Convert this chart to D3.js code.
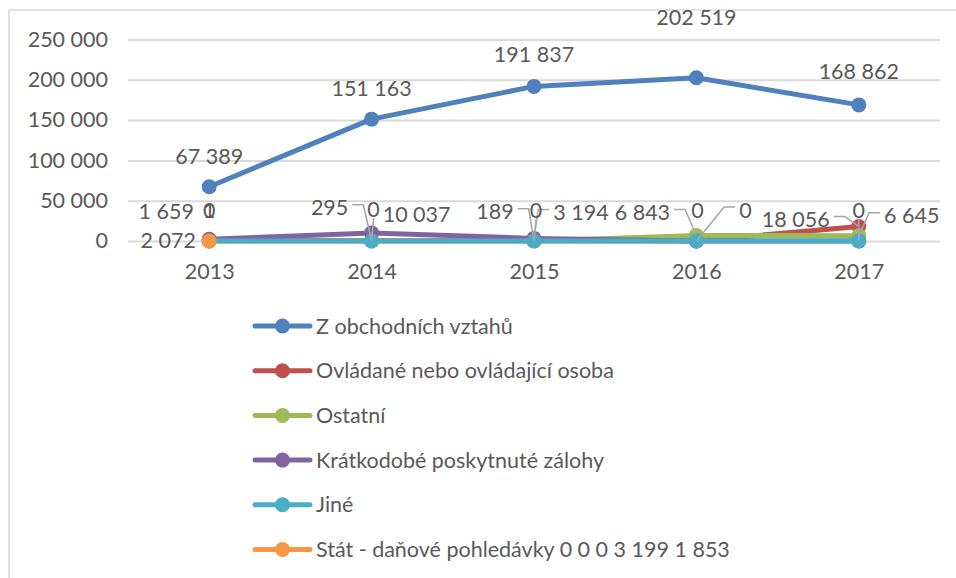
<!DOCTYPE html>
<html>
<head>
<meta charset="utf-8">
<script src="https://cdn.jsdelivr.net/npm/d3@7"></script>
<style>
  body { margin: 0; background: #fff; }
  text { font-family: Lato, "Open Sans", sans-serif; fill: #595959; }
</style>
</head>
<body>
<div class="chart"></div>
<script>
'use strict';

const years = ['2013', '2014', '2015', '2016', '2017'];
const seriesNames = [
    'Z obchodních vztahů',
    'Ovládané nebo ovládající osoba',
    'Ostatní',
    'Krátkodobé poskytnuté zálohy',
    'Jiné',
    'Stát - daňové pohledávky 0 0 0 3 199 1 853'
];
const obchodni = [67389, 151163, 191837, 202519, 168862];
const ovladane = [1659, 295, 189, 0, 18056];
const ostatni = [0, 0, 0, 6843, 6645];
const zalohy = [2072, 10037, 3194, 0, 0];
const jine = [1, 0, 0, 0, 0];
const stat = [0, null, null, null, null];
const yTicks = [0, 50000, 100000, 150000, 200000, 250000];
const colors = ['#4f81bd', '#c0504d', '#9bbb59', '#8064a2', '#4bacc6', '#f79646'];

const allSeries = [obchodni, ovladane, ostatni, zalohy, jine, stat];

// data label placement (offset of label centre from its point), like moved labels in Excel
const labelLayout = [
    {s: 0, i: 0, dx: 0, dy: -30}, {s: 0, i: 1, dx: 0, dy: -31},
    {s: 0, i: 2, dx: 0, dy: -32}, {s: 0, i: 3, dx: 0, dy: -60},
    {s: 0, i: 4, dx: 0, dy: -33},
    {s: 1, i: 0, dx: -43, dy: -28}, {s: 2, i: 0, dx: 0, dy: -31},
    {s: 4, i: 0, dx: 0, dy: -31}, {s: 3, i: 0, dx: -41, dy: 1},
    {s: 1, i: 1, dx: -42, dy: -33, lead: 'left'}, {s: 2, i: 1, dx: 2, dy: -32, lead: 'down'},
    {s: 3, i: 1, dx: 45, dy: -18},
    {s: 1, i: 2, dx: -39, dy: -29, lead: 'left'}, {s: 2, i: 2, dx: 2, dy: -31, lead: 'down'},
    {s: 3, i: 2, dx: 47, dy: -26, lead: 'right'},
    {s: 2, i: 3, dx: -54, dy: -23, lead: 'left'}, {s: 3, i: 3, dx: 1, dy: -31, lead: 'none'},
    {s: 4, i: 3, dx: 49, dy: -31, lead: 'right'},
    {s: 1, i: 4, dx: -63, dy: -7, lead: 'left'}, {s: 3, i: 4, dx: 0, dy: -31, lead: 'down'},
    {s: 2, i: 4, dx: 53, dy: -20, lead: 'right'}
];

const W = 956, H = 578;
const fs = 21.5;
const fmt = v => d3.format(',')(v).replace(/,/g, ' ');

const svg = d3.select('.chart').append('svg')
    .attr('width', W)
    .attr('height', H);

// chart frame
svg.append('path')
    .attr('d', `M9,${H} V10 H${W}`)
    .attr('fill', 'none')
    .attr('stroke', '#d9d9d9')
    .attr('stroke-width', 1.5);

const x = d3.scalePoint().domain(years).range([128, 940]).padding(0.5);
const y = d3.scaleLinear().domain([0, 250000]).range([241, 39.5]);

const yAxis = svg.append('g')
    .attr('transform', 'translate(128,0)')
    .call(d3.axisLeft(y).tickValues(yTicks).tickSize(-812).tickFormat(fmt).tickPadding(20));
yAxis.select('.domain').remove();
yAxis.selectAll('line').attr('stroke', '#d9d9d9').attr('stroke-width', 2);
yAxis.selectAll('text').attr('font-size', fs).style('font-family', 'Lato').attr('fill', '#595959');

const xAxis = svg.append('g')
    .attr('transform', 'translate(0,241)')
    .call(d3.axisBottom(x).tickSize(0).tickPadding(23));
xAxis.select('.domain').remove();
xAxis.selectAll('text').attr('font-size', fs).style('font-family', 'Lato').attr('fill', '#595959');

const line = d3.line()
    .defined(d => d != null)
    .x((d, i) => x(years[i]))
    .y(d => y(d));

allSeries.forEach((vals, s) => {
    const g = svg.append('g');
    g.append('path')
        .attr('d', line(vals))
        .attr('fill', 'none')
        .attr('stroke', colors[s])
        .attr('stroke-width', 5)
        .attr('stroke-linejoin', 'round')
        .attr('stroke-linecap', 'round');
    g.selectAll('circle')
        .data(vals.map((v, i) => ({v, i})).filter(d => d.v != null))
        .join('circle')
        .attr('cx', d => x(years[d.i]))
        .attr('cy', d => y(d.v))
        .attr('r', 7.5)
        .attr('fill', colors[s]);
});

// data labels with leader lines
const labels = svg.append('g');
labelLayout.forEach(l => {
    const v = allSeries[l.s][l.i];
    const px = x(years[l.i]), py = y(v);
    const lx = px + l.dx, ly = py + l.dy;
    const t = labels.append('text')
        .attr('x', lx)
        .attr('y', ly)
        .attr('text-anchor', 'middle')
        .attr('dy', '0.35em')
        .attr('font-size', fs)
        .text(fmt(v));
    if (!l.lead || l.lead === 'none') return;
    const w = t.node().getComputedTextLength();
    let pts;
    if (l.lead === 'down') {
        pts = [[lx, ly + 9], [px, py]];
    } else if (l.lead === 'left') {
        pts = [[lx + w / 2 + 4, ly - 3], [lx + w / 2 + 15, ly - 3], [px, py]];
    } else {
        pts = [[lx - w / 2 - 4, ly - 3], [lx - w / 2 - 15, ly - 3], [px, py]];
    }
    labels.insert('path', 'text')
        .attr('d', d3.line()(pts))
        .attr('fill', 'none')
        .attr('stroke', '#a6a6a6')
        .attr('stroke-width', 1.5);
});

// legend
const legend = svg.append('g').attr('transform', 'translate(255,326)');
seriesNames.forEach((name, s) => {
    const g = legend.append('g').attr('transform', `translate(0,${s * 44.7})`);
    g.append('line')
        .attr('x1', 0).attr('x2', 55)
        .attr('stroke', colors[s])
        .attr('stroke-width', 5)
        .attr('stroke-linecap', 'round');
    g.append('circle').attr('cx', 27.5).attr('r', 7.5).attr('fill', colors[s]);
    g.append('text')
        .attr('x', 61)
        .attr('dy', '0.35em')
        .attr('font-size', fs)
        .text(name);
});
</script>
</body>
</html>
